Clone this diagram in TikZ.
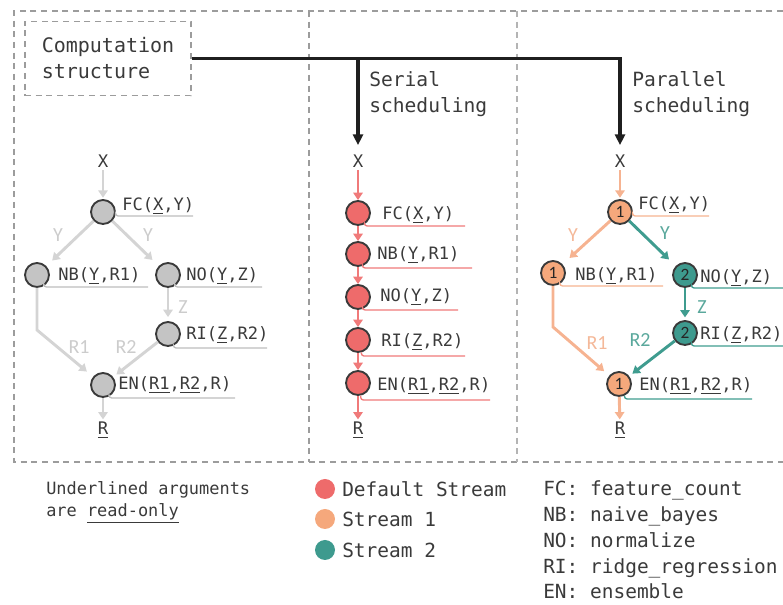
\documentclass[tikz,border=0pt]{standalone}
\usepackage{fontspec}
\setmonofont{DejaVu Sans Mono}
\newfontfamily\calfont{Carlito}
\usetikzlibrary{arrows.meta}
\definecolor{grayedge}{HTML}{D4D4D4}
\definecolor{grayfill}{HTML}{C4C4C4}
\definecolor{grayul}{HTML}{BDBDBD}
\definecolor{graylbl}{HTML}{CCCCCC}
\definecolor{redfill}{HTML}{EE6B6B}
\definecolor{rededge}{HTML}{F07A7A}
\definecolor{orfill}{HTML}{F5A87C}
\definecolor{oredge}{HTML}{F6B391}
\definecolor{orlbl}{HTML}{F4B899}
\definecolor{tealfill}{HTML}{3E9A8E}
\definecolor{tealedge}{HTML}{3F9C8F}
\definecolor{teallbl}{HTML}{5AA89C}
\definecolor{ink}{HTML}{3A3A3A}
\definecolor{framec}{HTML}{9C9C9C}
\definecolor{framelight}{HTML}{B4B4B4}
\begin{document}
\begin{tikzpicture}[x=0.75pt,y=-0.75pt,
  frameline/.style={draw=framec, line width=0.9pt, dash pattern=on 4.5pt off 3.5pt},
  op/.style={circle, draw=ink, line width=1.4pt, minimum size=18pt, inner sep=0pt,
    font=\calfont\fontsize{13}{13}\selectfont, text=black!85},
  txt/.style={inner sep=0pt, font=\ttfamily\fontsize{13}{13}\selectfont, text=ink},
  lbl/.style={anchor=base west, inner sep=0pt, font=\ttfamily\fontsize{12.8}{12.8}\selectfont, text=ink},
  ed/.style={line width=2.2pt, -{Triangle[width=7pt,length=5.5pt]}},
  elbl/.style={inner sep=0pt, font=\calfont\fontsize{15}{15}\selectfont},
  uln/.style={line width=1pt, rounded corners=2pt},
  bigarrow/.style={draw=black!88, line width=2.5pt, -{Triangle[width=7.5pt,length=8pt]}},
  headtxt/.style={anchor=base west, inner sep=0pt, align=left, text=ink,
    font=\ttfamily\fontsize{14.7}{19.5}\selectfont},
  legdot/.style={circle, minimum size=15pt, inner sep=0pt, draw=none},
  legtxt/.style={anchor=base west, inner sep=0pt, text=ink, font=\ttfamily\fontsize{14.6}{14.6}\selectfont}
]
\useasboundingbox (0,0) rectangle (783,605);

% frames
\draw[frameline] (783,11) -- (14,11) -- (14,462) -- (783,462);
\draw[frameline] (309,11) -- (309,462);
\draw[frameline, draw=framelight] (517,11) -- (517,462);

% title box and scheduling captions (base = last line)
\node[frameline, minimum width=124.5pt, minimum height=56pt, align=left, text=ink,
  font=\ttfamily\fontsize{15}{19.5}\selectfont] (comp) at (108,58.5) {Computation\\structure};
\node[headtxt] (serT) at (369,113) {Serial\\scheduling};
\node[headtxt] (parT) at (632,113) {Parallel\\scheduling};

% ---------- panel A: computation structure ----------
\node[txt] (aX) at (103,161) {X};
\node[op, fill=grayfill] (aFC) at (103,212) {};
\node[op, fill=grayfill] (aNB) at (37,275) {};
\node[op, fill=grayfill] (aNO) at (168,275) {};
\node[op, fill=grayfill] (aRI) at (168,334) {};
\node[op, fill=grayfill] (aEN) at (103,385) {};
\node[txt] (aR) at (103,430) {\underline{R}};

\draw[uln, grayul] (aFC.-14) |- (193,216);
\draw[uln, grayul] (aNB.-58) |- (148,287);
\draw[uln, grayul] (aNO.-58) |- (262,287);
\draw[uln, grayul] (aRI.-65) |- (267,348);
\draw[uln, grayul] (aEN.-62) |- (235,398);

\node[lbl] (aFCl) at (122,211) {FC(\underline{X},Y)};
\node[lbl] (aNBl) at (58,281) {NB(\underline{Y},R1)};
\node[lbl] (aNOl) at (186,281) {NO(\underline{Y},Z)};
\node[lbl] (aRIl) at (186,340) {RI(\underline{Z},R2)};
\node[lbl] (aENl) at (118,390) {EN(\underline{R1},\underline{R2},R)};

\draw[ed, grayedge, shorten <=2pt, shorten >=1pt] (aX) -- (aFC);
\draw[ed, grayedge, shorten >=6pt] (aFC) -- (aNB);
\draw[ed, grayedge, shorten >=6.5pt] (aFC) -- (aNO);
\draw[ed, grayedge, shorten >=3pt] (aNO) -- (aRI);
\draw[ed, grayedge, shorten >=6pt] (aNB) -- (37,330) -- (aEN);
\draw[ed, grayedge, shorten >=3pt] (aRI) -- (aEN);
\draw[ed, grayedge, shorten >=2pt] (aEN) -- (aR);

\node[elbl, text=graylbl] (aY1) at (58,235) {Y};
\node[elbl, text=graylbl] (aY2) at (148,235) {Y};
\node[elbl, text=graylbl] (aZ) at (183,307) {Z};
\node[elbl, text=graylbl] (aR1) at (79,347) {R1};
\node[elbl, text=graylbl] (aR2) at (126,347) {R2};

% ---------- panel B: serial scheduling ----------
\node[txt] (bX) at (358,161) {X};
\node[op, fill=redfill] (bFC) at (358,213) {};
\node[op, fill=redfill] (bNB) at (358,254) {};
\node[op, fill=redfill] (bNO) at (358,297) {};
\node[op, fill=redfill] (bRI) at (358,340) {};
\node[op, fill=redfill] (bEN) at (358,383) {};
\node[txt] (bR) at (358,430) {\underline{R}};

\draw[uln, rededge] (bFC.-60) |- (465,226);
\draw[uln, rededge] (bNB.-70) |- (472,268);
\draw[uln, rededge] (bNO.-70) |- (458,310);
\draw[uln, rededge] (bRI.-75) |- (465,356);
\draw[uln, rededge] (bEN.-78) |- (490,400);

\node[lbl] (bFCl) at (382,220) {FC(\underline{X},Y)};
\node[lbl] (bNBl) at (377,260) {NB(\underline{Y},R1)};
\node[lbl] (bNOl) at (380,302) {NO(\underline{Y},Z)};
\node[lbl] (bRIl) at (381,347) {RI(\underline{Z},R2)};
\node[lbl] (bENl) at (377,391) {EN(\underline{R1},\underline{R2},R)};

\draw[ed, rededge, shorten <=2pt] (bX) -- (bFC);
\draw[ed, rededge] (bFC) -- (bNB);
\draw[ed, rededge] (bNB) -- (bNO);
\draw[ed, rededge] (bNO) -- (bRI);
\draw[ed, rededge] (bRI) -- (bEN);
\draw[ed, rededge, shorten >=2pt] (bEN) -- (bR);

% ---------- panel C: parallel scheduling ----------
\node[txt] (cX) at (620,161) {X};
\node[op, fill=orfill] (cFC) at (620,212) {1};
\node[op, fill=orfill] (cNB) at (553,273) {1};
\node[op, fill=tealfill] (cNO) at (685,275) {2};
\node[op, fill=tealfill] (cRI) at (685,333) {2};
\node[op, fill=orfill] (cEN) at (619,384) {1};
\node[txt] (cR) at (620,430) {\underline{R}};

\draw[uln, oredge] (cFC.-14) |- (709,216);
\draw[uln, oredge] (cNB.-58) |- (663,286);
\draw[uln, tealedge] (cNO.-60) |- (783,288);
\draw[uln, tealedge] (cRI.-60) |- (783,346);
\draw[uln, tealedge] (cEN.-65) |- (752,399);

\node[lbl] (cFCl) at (638,210) {FC(\underline{X},Y)};
\node[lbl] (cNBl) at (575,281) {NB(\underline{Y},R1)};
\node[lbl] (cNOl) at (700,283) {NO(\underline{Y},Z)};
\node[lbl] (cRIl) at (700,340) {RI(\underline{Z},R2)};
\node[lbl] (cENl) at (639,391) {EN(\underline{R1},\underline{R2},R)};

\draw[ed, oredge, shorten <=2pt, shorten >=1pt] (cX) -- (cFC);
\draw[ed, oredge, shorten >=7pt] (cFC) -- (cNB);
\draw[ed, tealedge, shorten >=7pt] (cFC) -- (cNO);
\draw[ed, tealedge, shorten >=2pt] (cNO) -- (cRI);
\draw[ed, oredge, shorten >=5pt] (cNB) -- (553,327) -- (cEN);
\draw[ed, tealedge, shorten >=3pt] (cRI) -- (cEN);
\draw[ed, oredge, shorten >=2pt] (cEN) -- (cR);

\node[elbl, text=orlbl] (cY1) at (573,235) {Y};
\node[elbl, text=teallbl] (cY2) at (665,233) {Y};
\node[elbl, text=teallbl] (cZ) at (702,307) {Z};
\node[elbl, text=orlbl] (cR1) at (597,343) {R1};
\node[elbl, text=teallbl] (cR2) at (640,340) {R2};

% scheduling arrows
\coordinate (split) at (358,58.5);
\draw[bigarrow, shorten >=7pt] (comp.east) -| (cX);
\draw[bigarrow, shorten >=7pt] (split) -- (bX);

% ---------- legend ----------
\node[anchor=base west, inner sep=0pt, align=left, text=ink,
  font=\ttfamily\fontsize{12.7}{16.5}\selectfont] (note) at (46,517) {Underlined arguments\\are \underline{read-only}};

\node[legdot, fill=redfill] (l1) at (325,489) {};
\node[legtxt] (l1t) at (342,497) {Default Stream};
\node[legdot, fill=orfill] (l2) at (325,519) {};
\node[legtxt] (l2t) at (342,527) {Stream 1};
\node[legdot, fill=tealfill] (l3) at (325,550) {};
\node[legtxt] (l3t) at (342,558) {Stream 2};

\node[legtxt] (k1) at (543,496) {FC: feature\_count};
\node[legtxt] (k2) at (543,522) {NB: naive\_bayes};
\node[legtxt] (k3) at (543,548) {NO: normalize};
\node[legtxt] (k4) at (543,574) {RI: ridge\_regression};
\node[legtxt] (k5) at (543,599) {EN: ensemble};
\end{tikzpicture}
\end{document}
